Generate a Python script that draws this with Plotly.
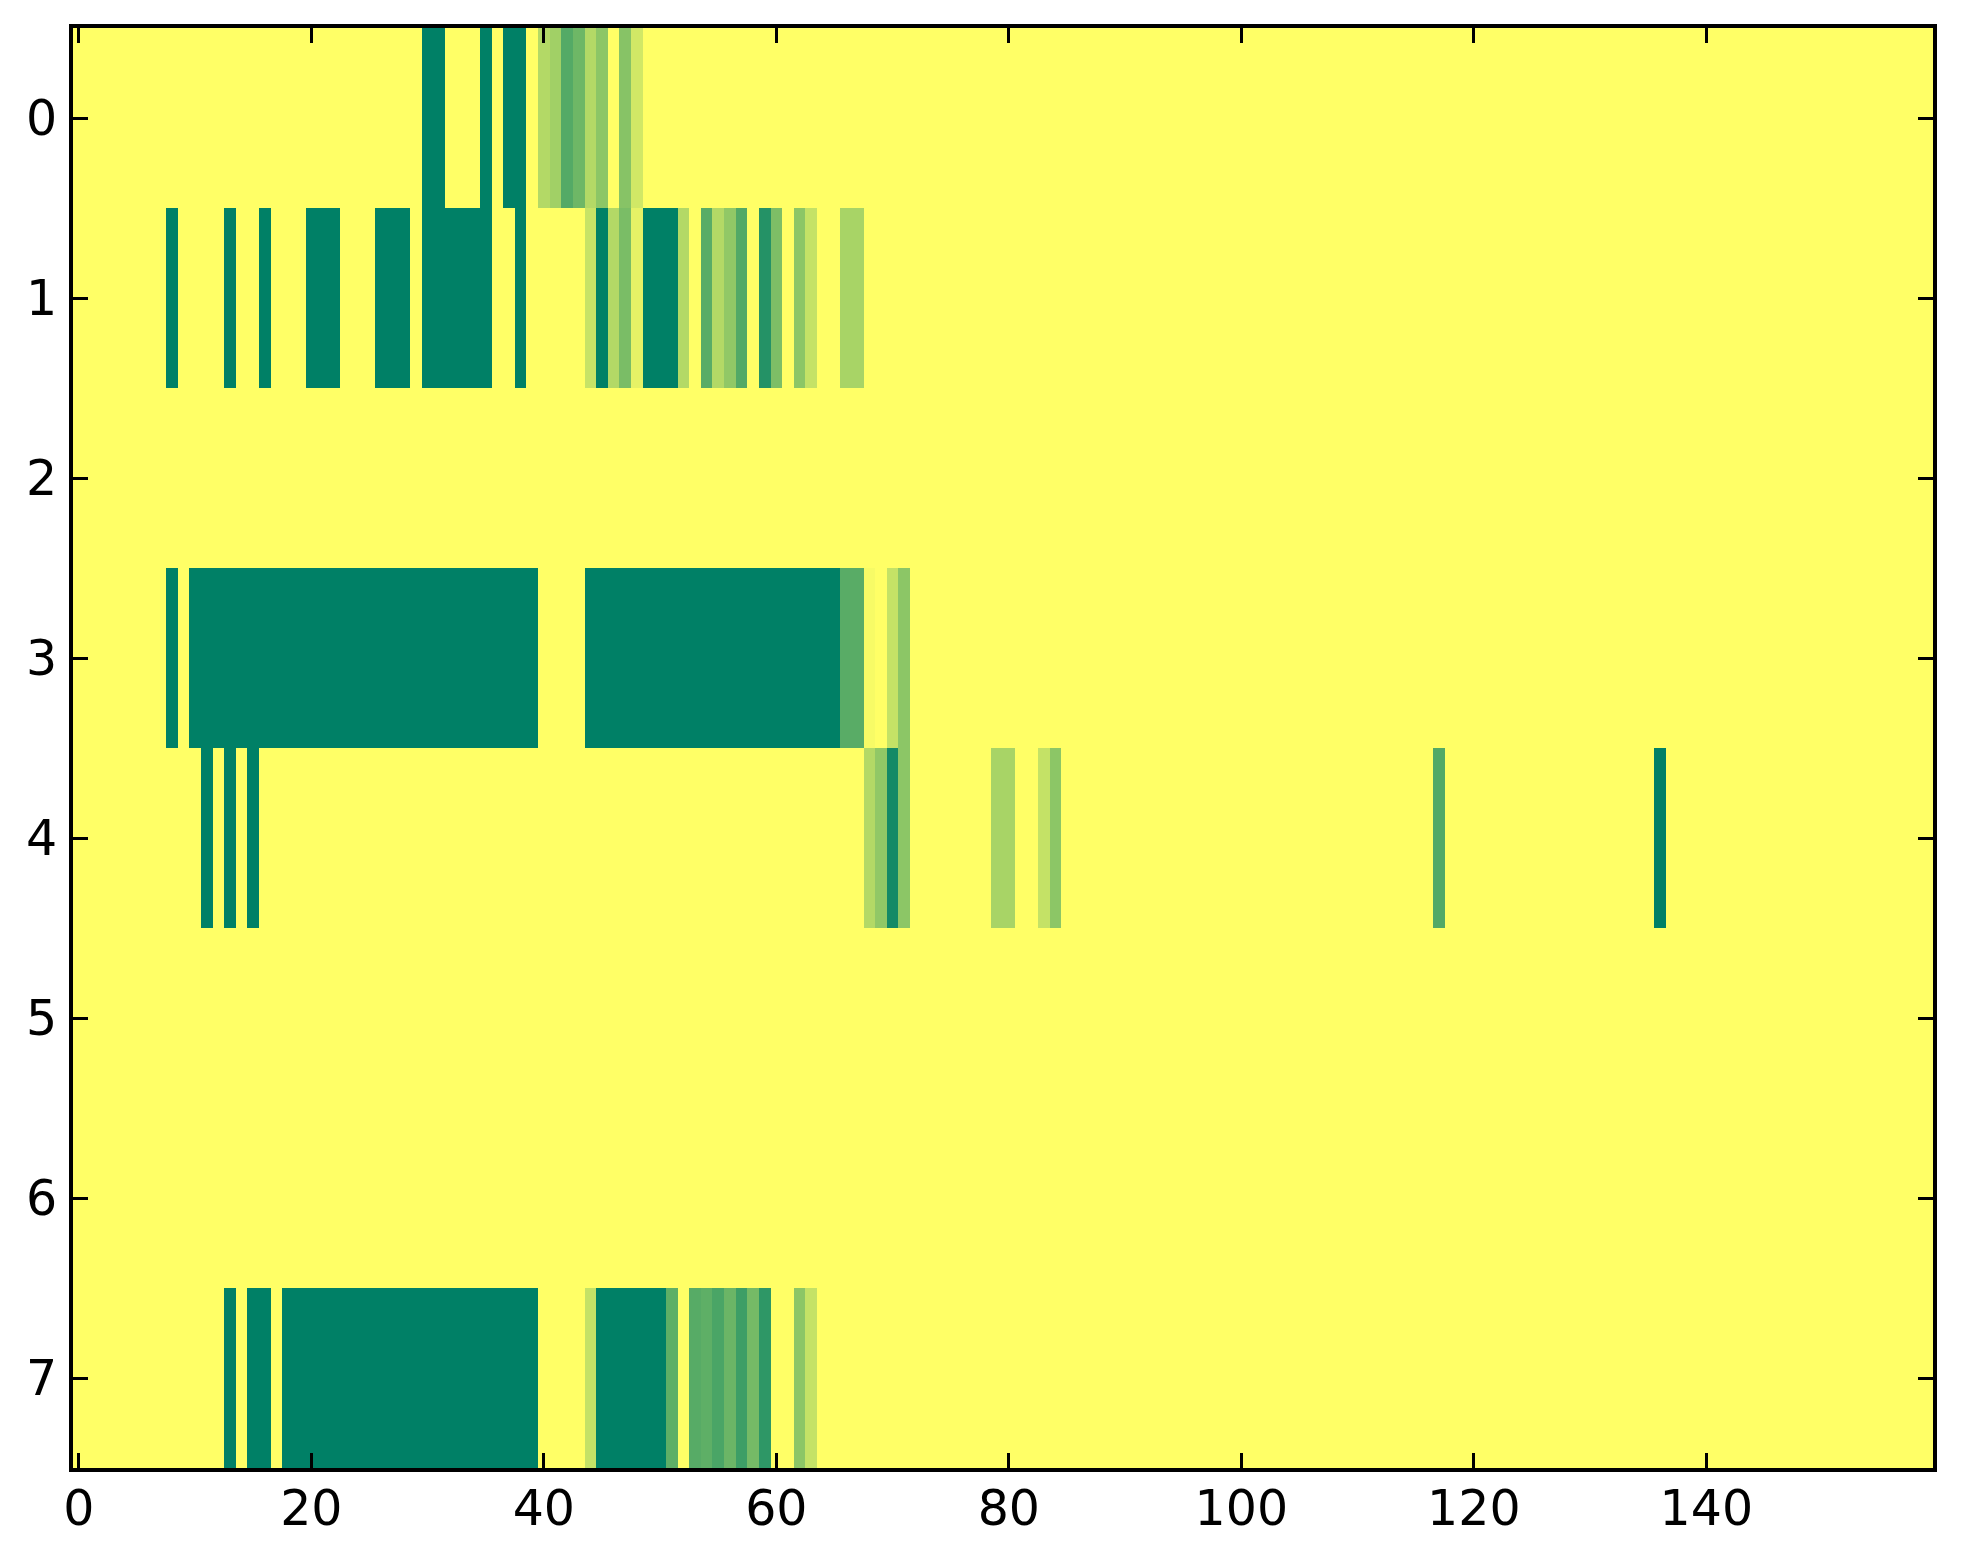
import plotly.graph_objs as go

n_rows = 8
n_cols = 160

# runs of cells: (first column, last column, value)
row0 = [(30, 31, 1.0), (35, 35, 1.0), (37, 38, 1.0), (40, 40, 0.30), (41, 41, 0.37),
        (42, 42, 0.67), (43, 43, 0.57), (44, 44, 0.30), (45, 45, 0.45), (47, 47, 0.47),
        (48, 48, 0.18)]
row1 = [(8, 8, 1.0), (13, 13, 1.0), (16, 16, 1.0), (20, 22, 1.0), (26, 28, 1.0),
        (30, 35, 1.0), (38, 38, 1.0), (44, 44, 0.22), (45, 45, 1.0), (46, 46, 0.30),
        (47, 47, 0.52), (48, 48, 0.10), (49, 51, 1.0), (52, 52, 0.30), (54, 54, 0.65),
        (55, 55, 0.30), (56, 56, 0.43), (57, 57, 0.68), (59, 59, 0.86), (60, 60, 0.51),
        (62, 62, 0.45), (63, 63, 0.23), (66, 67, 0.34)]
row2 = []
row3 = [(8, 8, 1.0), (10, 39, 1.0), (44, 65, 1.0), (66, 67, 0.65), (68, 68, 0.03),
        (70, 70, 0.23), (71, 71, 0.45)]
row4 = [(11, 11, 1.0), (13, 13, 1.0), (15, 15, 1.0), (68, 68, 0.30), (69, 69, 0.43),
        (70, 70, 0.92), (71, 71, 0.45), (79, 80, 0.34), (83, 83, 0.23), (84, 84, 0.45),
        (117, 117, 0.68), (136, 136, 1.0)]
row5 = []
row6 = []
row7 = [(13, 13, 1.0), (15, 16, 1.0), (18, 39, 1.0), (44, 44, 0.23), (45, 50, 1.0),
        (51, 51, 0.63), (53, 53, 0.66), (54, 54, 0.63), (55, 55, 0.71), (56, 56, 0.58),
        (57, 57, 0.76), (58, 58, 0.54), (59, 59, 0.82), (62, 62, 0.45), (63, 63, 0.23)]

x_ticks = [0, 20, 40, 60, 80, 100, 120, 140]
y_ticks = [0, 1, 2, 3, 4, 5, 6, 7]

z = []
for runs in [row0, row1, row2, row3, row4, row5, row6, row7]:
    line = [0.0] * n_cols
    for a, b, v in runs:
        for c in range(a, b + 1):
            line[c] = v
    z.append(line)

# matplotlib summer_r: yellow for low, green for high
summer_r = [[0.0, 'rgb(255,255,102)'], [1.0, 'rgb(0,128,102)']]

fig = go.Figure(go.Heatmap(
    z=z,
    x=list(range(n_cols)),
    y=list(range(n_rows)),
    colorscale=summer_r,
    zmin=0, zmax=1,
    showscale=False,
    hoverongaps=False
))

axis_style = dict(
    showline=True, linecolor='black', linewidth=4, mirror='ticks',
    ticks='inside', ticklen=15, tickwidth=2.5, tickcolor='black',
    showgrid=False, zeroline=False,
    tickfont=dict(family='DejaVu Sans', size=49, color='black')
)

# page body has an 8px margin, so the figure is sized to fit inside it
fig.update_layout(
    width=1947, height=1548,
    margin=dict(l=65, r=22, t=20, b=88),
    paper_bgcolor='white', plot_bgcolor='white',
    xaxis=dict(range=[-0.5, n_cols - 0.5], tickvals=x_ticks,
               ticklabelstandoff=-6, **axis_style),
    yaxis=dict(range=[n_rows - 0.5, -0.5], tickvals=y_ticks,
               ticklabelstandoff=2, **axis_style)
)

fig.write_html("out.html")
